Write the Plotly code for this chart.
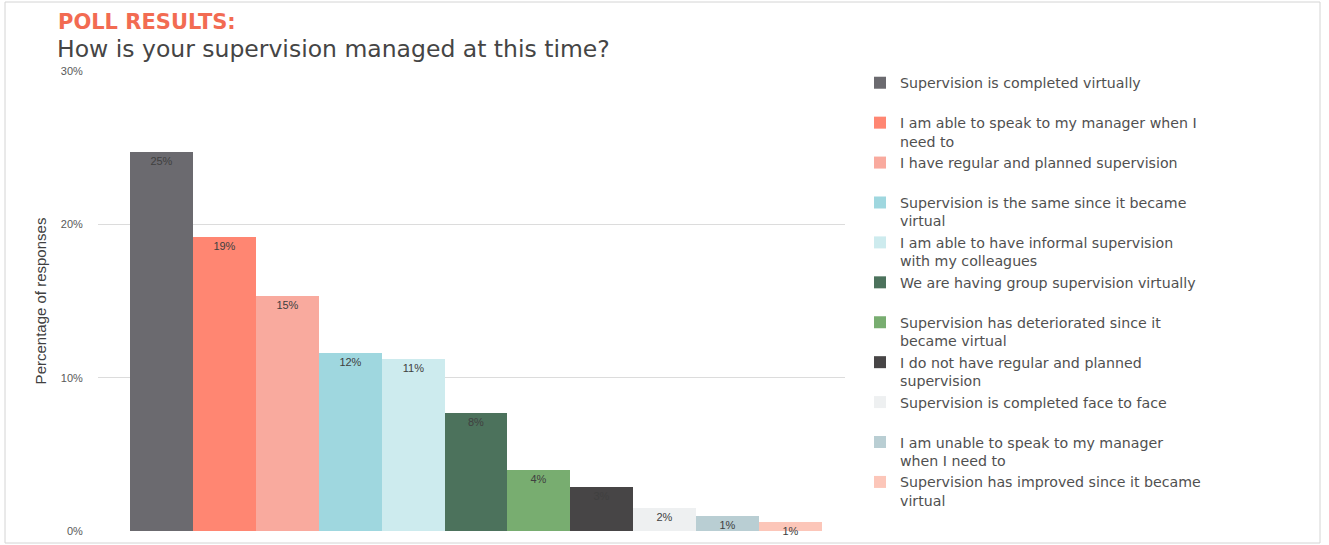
import plotly.graph_objects as go

# Poll answers, in the order drawn (largest share first)
answers = [
    "Supervision is completed virtually",
    "I am able to speak to my manager when I<br>need to",
    "I have regular and planned supervision",
    "Supervision is the same since it became<br>virtual",
    "I am able to have informal supervision<br>with my colleagues",
    "We are having group supervision virtually",
    "Supervision has deteriorated since it<br>became virtual",
    "I do not have regular and planned<br>supervision",
    "Supervision is completed face to face",
    "I am unable to speak to my manager<br>when I need to",
    "Supervision has improved since it became<br>virtual",
]

# Percentage of responses for each answer
shares = [24.7, 19.2, 15.3, 11.6, 11.2, 7.7, 4.0, 2.9, 1.5, 1.0, 0.6]

colors = [
    "#6b6a6f", "#ff8672", "#f9aa9e", "#9fd7df", "#cdebee", "#4c725c",
    "#78ad70", "#474546", "#eef0f1", "#b9ced3", "#fcc6b9",
]

y_ticks = [0, 10, 20, 30]
y_tick_text = [f"{v}%" for v in y_ticks]

FONT = "DejaVu Sans, Liberation Sans, Arial, sans-serif"

fig = go.Figure()
for i, (name, val, col) in enumerate(zip(answers, shares, colors)):
    # keep every legend entry two lines tall so the entries are evenly spaced
    label = name if "<br>" in name else name + "<br>\u00a0"
    fig.add_trace(go.Bar(
        x=[i], y=[val], width=1, name=label,
        marker=dict(color=col, line=dict(width=0)),
        texttemplate="%{y:.0f}%", textposition="inside",
        insidetextanchor="end", constraintext="none", textangle=0,
        insidetextfont=dict(family="Liberation Sans, Arial", size=11, color="#404040"),
        cliponaxis=False,
        hoverinfo="name+y",
    ))

plot_left, plot_right, plot_top, plot_bottom = 98, 845, 71, 531
W, H = 1329, 545
pw, ph = plot_right - plot_left, plot_bottom - plot_top

def px(x):
    return (x - plot_left) / pw

def py(y):
    return (plot_bottom - y) / ph

fig.update_layout(
    template="none",
    font=dict(family="Liberation Sans, Arial", color="#595959"),
    width=W, height=H,
    margin=dict(l=plot_left, r=W - plot_right, t=plot_top, b=H - plot_bottom, autoexpand=False),
    paper_bgcolor="white", plot_bgcolor="white",
    barmode="overlay", bargap=0,
    showlegend=True,
    legend=dict(
        xref="container", yref="container", x=860 / W, y=1 - 67 / H,
        xanchor="left", yanchor="top", valign="top", maxheight=480,
        font=dict(family=FONT, size=14.2, color="#505050"),
        bgcolor="rgba(0,0,0,0)", traceorder="normal",
    ),
    xaxis=dict(
        range=[-1.009, 10.866], showticklabels=False, showgrid=False,
        zeroline=False, showline=False, fixedrange=True, ticks="",
    ),
    yaxis=dict(
        range=[0, 30], tickmode="array", tickvals=y_ticks, ticktext=y_tick_text,
        showgrid=True, gridcolor="#dcdcdc", gridwidth=1,
        zeroline=False, showline=False,
        ticks="outside", ticklen=12, tickcolor="rgba(0,0,0,0)",
        tickfont=dict(family="Liberation Sans, Arial", size=11, color="#595959"),
        title=dict(text="Percentage of responses", standoff=10,
                   font=dict(family="Liberation Sans, Arial", size=15, color="#404040")),
    ),
    shapes=[dict(
        type="rect", xref="paper", yref="paper",
        x0=px(5), x1=px(1320), y0=py(543), y1=py(2),
        line=dict(color="#d4d4d4", width=1), fillcolor="rgba(0,0,0,0)", layer="below",
    )],
    annotations=[
        dict(text="<b>POLL RESULTS:</b>", xref="paper", yref="paper",
             x=px(56), y=py(22), xanchor="left", yanchor="middle", showarrow=False,
             font=dict(family=FONT, size=21, color="#f26b52")),
        dict(text="How is your supervision managed at this time?", xref="paper", yref="paper",
             x=px(55), y=py(49), xanchor="left", yanchor="middle", showarrow=False,
             font=dict(family=FONT, size=23.5, color="#454545")),
    ],
)

fig.write_html("out.html")
